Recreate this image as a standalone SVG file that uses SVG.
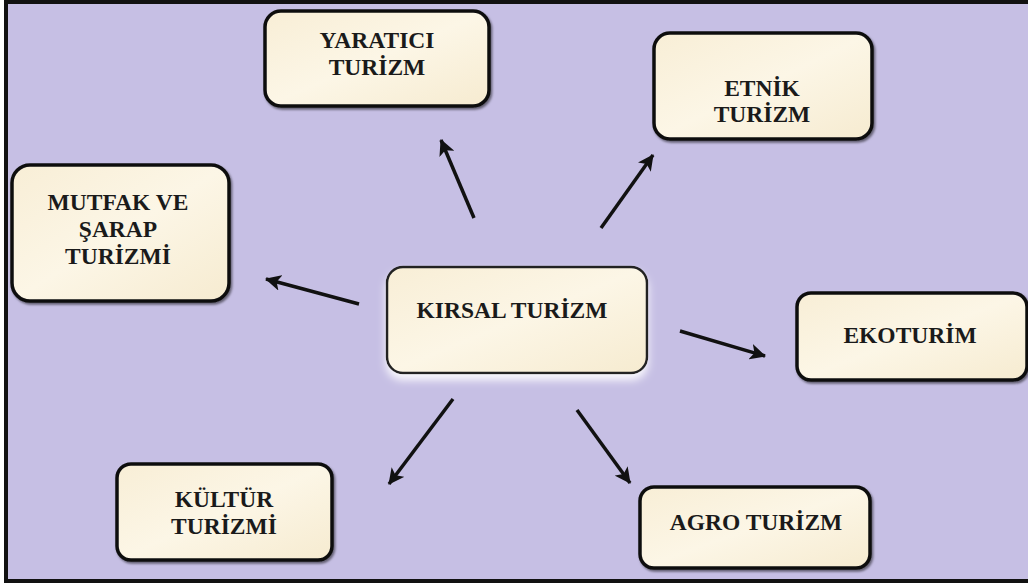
<svg xmlns="http://www.w3.org/2000/svg" width="1028" height="586" viewBox="0 0 1028 586">
  <defs>
    <linearGradient id="cream" x1="0" y1="0" x2="1" y2="1">
      <stop offset="0" stop-color="#f8eed6"/>
      <stop offset="0.5" stop-color="#fcf6e6"/>
      <stop offset="1" stop-color="#f6ebd0"/>
    </linearGradient>
    <filter id="shadow" x="-10%" y="-10%" width="120%" height="125%">
      <feDropShadow dx="1.5" dy="2" stdDeviation="1.2" flood-color="#000" flood-opacity="0.5"/>
    </filter>
    <filter id="glow" x="-15%" y="-20%" width="130%" height="150%">
      <feDropShadow dx="0" dy="6" stdDeviation="4" flood-color="#ffffff" flood-opacity="0.9"/>
    </filter>
    <marker id="arrow" markerUnits="userSpaceOnUse" markerWidth="18" markerHeight="16" refX="15" refY="8" orient="auto">
      <path d="M0,0 L16,8 L0,16 L4,8 Z" fill="#111"/>
    </marker>
    <style>
      .box { fill: url(#cream); stroke: #111; stroke-width: 3.5; filter: url(#shadow); }
      .center { fill: url(#cream); stroke: #222; stroke-width: 2.5; filter: url(#glow); }
      .lbl { font-family: "Liberation Serif", "Times New Roman", serif; font-weight: bold; font-size: 23.5px; fill: #1a1a1a; text-anchor: middle; }
      .conn line { stroke: #111; stroke-width: 3.5; marker-end: url(#arrow); }
    </style>
  </defs>

  <rect x="0" y="0" width="1028" height="586" fill="#ffffff"/>
  <rect x="6" y="2" width="1030" height="579" fill="#c6bfe4" stroke="#111" stroke-width="4"/>

  <g id="connectors" class="conn">
    <line x1="474" y1="218" x2="441" y2="140"/>
    <line x1="601" y1="228" x2="653" y2="155"/>
    <line x1="359" y1="304" x2="266" y2="279"/>
    <line x1="680" y1="331" x2="765" y2="356"/>
    <line x1="453" y1="399" x2="389" y2="484"/>
    <line x1="577" y1="410" x2="630" y2="483"/>
  </g>

  <g id="kirsal">
    <rect class="center" x="387" y="267" width="260" height="106" rx="16"/>
    <text class="lbl" x="512" y="318">KIRSAL TURİZM</text>
  </g>

  <g id="yaratici">
    <rect class="box" x="265" y="11" width="224" height="95" rx="16"/>
    <text class="lbl" x="377" y="48">YARATICI</text>
    <text class="lbl" x="377" y="75">TURİZM</text>
  </g>

  <g id="etnik">
    <rect class="box" x="654" y="33" width="218" height="106" rx="16"/>
    <text class="lbl" x="762" y="96">ETNİK</text>
    <text class="lbl" x="762" y="122">TURİZM</text>
  </g>

  <g id="mutfak">
    <rect class="box" x="12" y="165" width="217" height="136" rx="18"/>
    <text class="lbl" x="118" y="210">MUTFAK VE</text>
    <text class="lbl" x="118" y="237">ŞARAP</text>
    <text class="lbl" x="118" y="264">TURİZMİ</text>
  </g>

  <g id="ekoturim">
    <rect class="box" x="797" y="293" width="230" height="87" rx="14"/>
    <text class="lbl" x="910" y="343">EKOTURİM</text>
  </g>

  <g id="kultur">
    <rect class="box" x="117" y="464" width="215" height="96" rx="14"/>
    <text class="lbl" x="224" y="507">KÜLTÜR</text>
    <text class="lbl" x="224" y="534">TURİZMİ</text>
  </g>

  <g id="agro">
    <rect class="box" x="640" y="487" width="230" height="81" rx="14"/>
    <text class="lbl" x="756" y="530">AGRO TURİZM</text>
  </g>
</svg>
